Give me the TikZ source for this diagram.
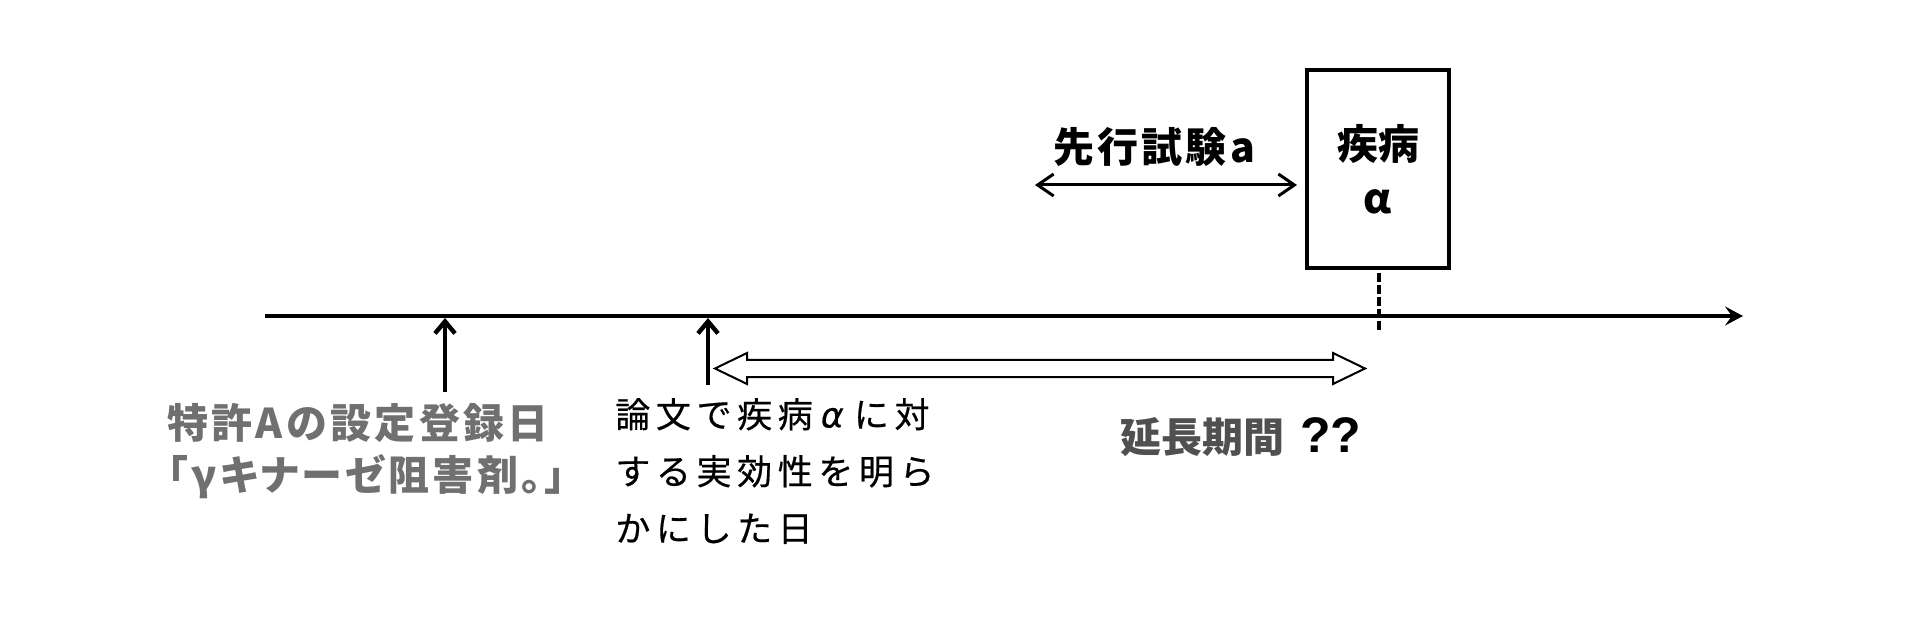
\documentclass[tikz,border=0pt]{standalone}
\usepackage{fontspec}
\usetikzlibrary{arrows.meta}
\newfontfamily\jp{Noto Sans CJK JP}
\newfontfamily\jpwide{Noto Sans CJK JP}[LetterSpace=8]
\newfontfamily\jpsp{Noto Sans CJK JP}[LetterSpace=16, FakeBold=0.5]
\newfontfamily\jppalt{Noto Sans CJK JP}[RawFeature=+palt, LetterSpace=8]
\newfontfamily\grk{DejaVu Sans}[FakeBold=0.3]
\newfontfamily\lsans{Liberation Sans}
\definecolor{graytxt}{HTML}{707070}
\definecolor{darkgraytxt}{HTML}{505050}
\tikzset{
  axisline/.style={line width=1.7pt, -{Stealth[length=9pt,width=9.5pt,inset=3.5pt]}},
  uparrow/.style={line width=2.2pt, -{Straight Barb[length=6pt,width=10pt]}},
  twoway/.style={line width=1.5pt, {Straight Barb[length=8pt,width=11pt]}-{Straight Barb[length=8pt,width=11pt]}},
  boldjp/.style={font=\jp\bfseries\fontsize{20.5}{26}\selectfont, inner sep=0},
}
\begin{document}
\begin{tikzpicture}[x=0.5pt,y=-0.5pt]
\useasboundingbox (0,0) rectangle (1920,630);
\fill[white] (0,0) rectangle (1920,630);
% timeline
\coordinate (tl0) at (265,316);
\coordinate (tl1) at (1743,316);
\draw[axisline] (tl0) -- (tl1);
% up arrows
\coordinate (p0) at (445,392); \coordinate (p1) at (445,318);
\draw[uparrow] (p0) -- (p1);
\coordinate (q0) at (708,385); \coordinate (q1) at (708,318);
\draw[uparrow] (q0) -- (q1);
% box
\node[draw, line width=1.8pt, minimum width=71pt, minimum height=99pt, inner sep=0,
      align=center, font=\jp\bfseries\fontsize{20.5}{27}\selectfont] (box) at (1378,169) {疾病\\α};
\coordinate (d0) at (1379,273); \coordinate (d1) at (1379,333);
\draw[line width=1.6pt, dash pattern=on 4.5pt off 1.5pt] (d0) -- (d1);
% prior test arrow
\coordinate (s0) at (1035,185); \coordinate (s1) at (1297,185);
\draw[twoway] (s0) -- (s1);
\node[boldjp, font=\jpwide\bfseries\fontsize{20.5}{26}\selectfont] (prior) at (1154,147) {先行試験a};
% hollow double arrow
\coordinate (h1) at (715,368.5);
\coordinate (h2) at (747,353);
\coordinate (h3) at (747,360);
\coordinate (h4) at (1333,360);
\coordinate (h5) at (1333,353);
\coordinate (h6) at (1365,368.5);
\coordinate (h7) at (1333,384);
\coordinate (h8) at (1333,377);
\coordinate (h9) at (747,377);
\coordinate (h10) at (747,384);
\draw[line width=1pt, line join=miter] (h1) -- (h2) -- (h3) -- (h4) -- (h5) -- (h6) -- (h7) -- (h8) -- (h9) -- (h10) -- cycle;
% texts
\node[anchor=west, align=left, text=graytxt, boldjp, font=\jpwide\bfseries\fontsize{20.5}{26}\selectfont] (pat) at (167,451)
  {特許Aの設定登録日\\{\jppalt 「γキナーゼ阻害剤。」}};
\node[anchor=west, align=left, inner sep=0, font=\jpsp\fontsize{17.5}{28.5}\selectfont] (pap) at (615,471)
  {論文で疾病{\kern4pt\grk\itshape α\kern5pt}に対\\する実効性を明ら\\かにした日};
\node[anchor=west, boldjp, text=darkgraytxt] (ext) at (1120,437) {延長期間\hspace{8pt}{\lsans\bfseries\fontsize{25}{26}\selectfont\color{black}??}};
\end{tikzpicture}
\end{document}
